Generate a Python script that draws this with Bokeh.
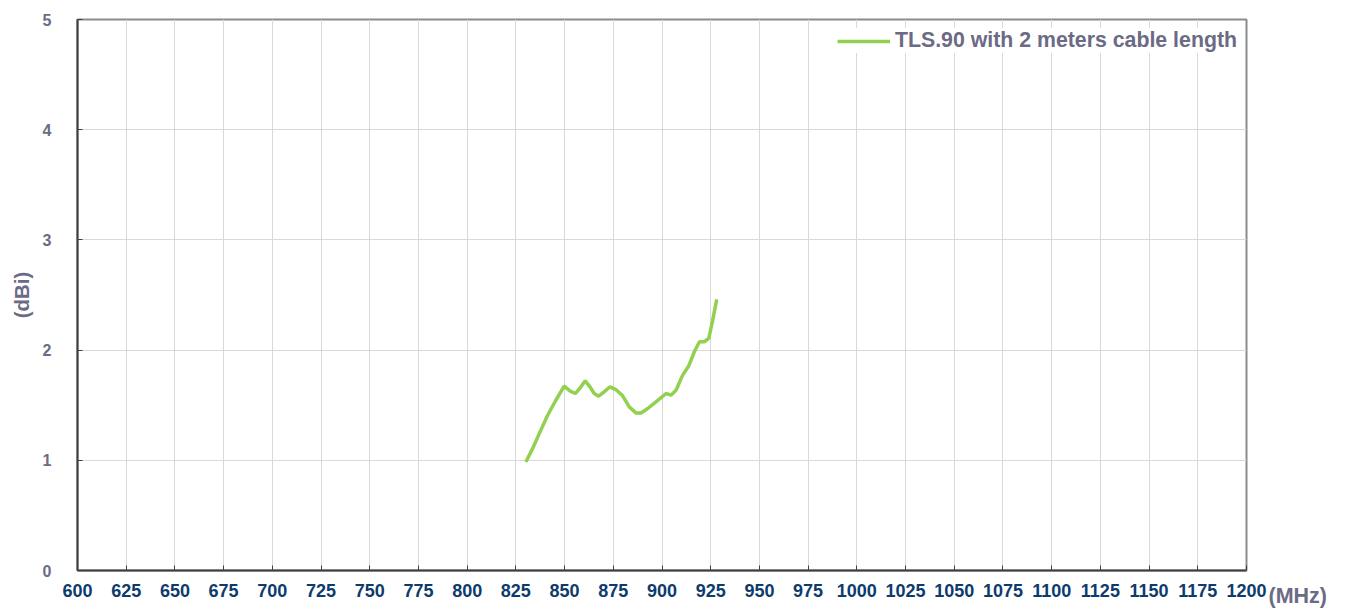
from bokeh.plotting import figure
from bokeh.embed import file_html
from bokeh.resources import INLINE
from bokeh.models import Legend, LegendItem, FixedTicker, LinearAxis, Range1d

freq = [830.1, 833.6, 837.0, 841.3, 845.5, 849.8, 852.7, 855.5, 858.4, 860.6,
        863.0, 865.2, 867.5, 870.3, 873.3, 876.3, 879.8, 883.2, 886.6, 889.2,
        892.7, 896.9, 902.1, 904.6, 907.2, 910.6, 913.7, 916.6, 919.2, 921.7,
        924.0, 926.0, 928.1]
gain = [0.985, 1.106, 1.242, 1.409, 1.545, 1.673, 1.63, 1.606, 1.667, 1.721,
        1.667, 1.606, 1.582, 1.621, 1.667, 1.642, 1.585, 1.485, 1.43, 1.43,
        1.47, 1.53, 1.606, 1.591, 1.636, 1.773, 1.855, 1.985, 2.076, 2.076,
        2.106, 2.27, 2.46]
x_ticks = list(range(600, 1201, 25))
y_ticks = [0, 1, 2, 3, 4, 5]
series_name = "TLS.90 with 2 meters cable length"
x_unit = "(MHz)"
y_unit = "(dBi)"

W, H = 1345, 609
p = figure(width=W, height=H, x_range=(600, 1200), y_range=(0, 5),
           output_backend="svg", toolbar_location=None,
           min_border_left=77, min_border_top=19, min_border_right=99,
           min_border_bottom=39)

grid_col = "#d9d9d9"
p.xgrid.grid_line_color = grid_col
p.ygrid.grid_line_color = grid_col
p.xaxis.ticker = FixedTicker(ticks=x_ticks)
p.yaxis.ticker = FixedTicker(ticks=y_ticks)
p.xgrid.ticker = FixedTicker(ticks=x_ticks)
p.ygrid.ticker = FixedTicker(ticks=y_ticks)

p.outline_line_color = "#8c8c8c"
p.outline_line_width = 2

for ax in (p.xaxis, p.yaxis):
    ax.axis_line_color = "#404040"
    ax.axis_line_width = 2
    ax.major_tick_line_color = "#404040"
    ax.major_tick_in = 5
    ax.major_tick_out = 0
    ax.minor_tick_line_color = None
    ax.major_label_text_font = "Liberation Sans"
    ax.major_label_text_font_style = "bold"

p.xaxis.major_label_text_color = "#0d3b6e"
p.xaxis.major_label_text_font_size = "18px"
p.xaxis.major_label_standoff = 13
p.yaxis.major_label_text_color = "#6b6b85"
p.yaxis.major_label_text_font_size = "16px"
p.yaxis.major_label_standoff = 26

p.yaxis.axis_label = y_unit
p.yaxis.axis_label_text_font = "Liberation Sans"
p.yaxis.axis_label_text_font_style = "bold"
p.yaxis.axis_label_text_font_size = "20.5px"
p.yaxis.axis_label_text_color = "#6b6b85"
p.yaxis.axis_label_standoff = 7

# unit label for x placed to the right of the last tick label
p.extra_y_ranges = {"unit": Range1d(0, 1)}
unit_axis = LinearAxis(y_range_name="unit", ticker=FixedTicker(ticks=[0]),
                       major_label_overrides={0: "\n\n" + x_unit})
unit_axis.axis_line_color = None
unit_axis.major_tick_line_color = None
unit_axis.minor_tick_line_color = None
unit_axis.major_tick_in = 0
unit_axis.major_tick_out = 0
unit_axis.major_label_standoff = 22
unit_axis.major_label_text_baseline = "top"
unit_axis.major_label_text_font = "Liberation Sans"
unit_axis.major_label_text_font_style = "bold"
unit_axis.major_label_text_font_size = "21.5px"
unit_axis.major_label_text_color = "#6b6b85"
p.add_layout(unit_axis, "right")

r = p.line(freq, gain, line_color="#92d050", line_width=3.5)

legend = Legend(items=[LegendItem(label=series_name, renderers=[r])],
                location="top_right")
legend.label_text_font = "Liberation Sans"
legend.label_text_font_style = "bold"
legend.label_text_font_size = "21.3px"
legend.label_text_color = "#6b6b85"
legend.border_line_color = None
legend.background_fill_alpha = 1.0
legend.glyph_width = 53
legend.label_standoff = 5
legend.margin = 9
legend.padding = 2
p.add_layout(legend)

open("out.html", "w").write(file_html(p, INLINE))
